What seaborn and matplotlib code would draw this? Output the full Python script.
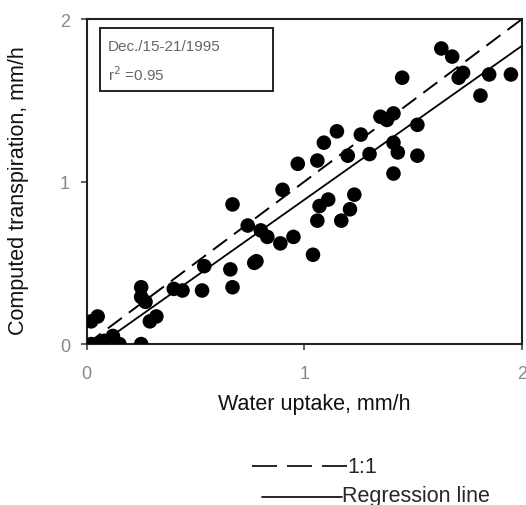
import numpy as np
import pandas as pd
import matplotlib.pyplot as plt
import seaborn as sns
from matplotlib.lines import Line2D
from matplotlib.patches import Rectangle

# data
water_uptake = [0.02, 0.05, 0.02, 0.05, 0.08, 0.12, 0.15, 0.25, 0.25, 0.25,
                0.27, 0.32, 0.29, 0.40, 0.44, 0.53, 0.54, 0.66, 0.67, 0.77,
                0.67, 0.74, 0.80, 0.83, 0.89, 0.95, 0.78, 0.90, 0.97, 1.06,
                1.09, 1.15, 1.26, 1.35, 1.41, 1.38, 1.20, 1.30, 1.41, 1.43,
                1.52, 1.41, 1.52, 1.45, 1.63, 1.68, 1.71, 1.73, 1.85, 1.95,
                1.81, 1.11, 1.07, 1.06, 1.23, 1.21, 1.17, 1.04]
computed_transp = [0.14, 0.17, 0.00, 0.00, 0.02, 0.05, 0.00, 0.00, 0.35, 0.29,
                   0.26, 0.17, 0.14, 0.34, 0.33, 0.33, 0.48, 0.46, 0.35, 0.50,
                   0.86, 0.73, 0.70, 0.66, 0.62, 0.66, 0.51, 0.95, 1.11, 1.13,
                   1.24, 1.31, 1.29, 1.40, 1.42, 1.38, 1.16, 1.17, 1.24, 1.18,
                   1.16, 1.05, 1.35, 1.64, 1.82, 1.77, 1.64, 1.67, 1.66, 1.66,
                   1.53, 0.89, 0.85, 0.76, 0.92, 0.83, 0.76, 0.55]
one_to_one = [0, 2]
period_label = "Dec./15-21/1995"
r2_label = "r$^2$ =0.95"

df = pd.DataFrame({"uptake": water_uptake, "transp": computed_transp})

sns.set_theme(style="ticks")
plt.rcParams['font.family'] = ['Liberation Sans', 'DejaVu Sans']

fig = plt.figure(figsize=(5.26, 5.06), dpi=100)
ax = fig.add_axes([0.165, 0.318, 0.827, 0.642])
ax.set_xlim(0, 2)
ax.set_ylim(0, 2)

# 1:1 line
ax.plot(one_to_one, one_to_one, color='black', linestyle=(0, (9, 4.5)), linewidth=1.4)

sns.regplot(data=df, x="uptake", y="transp", ax=ax, scatter=False, ci=None,
            truncate=False, line_kws=dict(color='black', linewidth=1.3))
sns.scatterplot(data=df, x="uptake", y="transp", ax=ax, color='black',
                s=110, edgecolor='none', zorder=3)

ax.set_xlim(0, 2)
ax.set_ylim(0, 2)
ax.set_xticks([0, 1, 2])
ax.set_yticks([0, 1, 2])
ax.tick_params(axis='both', labelsize=13, labelcolor='#888888', length=4,
               width=1.2, color='#444444')
ax.tick_params(axis='x', pad=11)
ax.tick_params(axis='y', pad=8)
for s in ax.spines.values():
    s.set_linewidth(1.5)
    s.set_color('#222222')

ax.set_xlabel("Water uptake, mm/h", fontsize=15.5, color='#111111')
ax.set_ylabel("Computed transpiration, mm/h", fontsize=15.5, color='#111111')
ax.xaxis.set_label_coords(0.524, -0.152)
ax.yaxis.set_label_coords(-0.133, 0.474)

# info box
ax.add_patch(Rectangle((0.030, 0.778), 0.398, 0.194, transform=ax.transAxes,
                       fill=False, edgecolor='#222222', linewidth=1.4))
ax.text(0.048, 0.917, period_label, transform=ax.transAxes, fontsize=11,
        color='#666666', va='center')
ax.text(0.048, 0.831, r2_label, transform=ax.transAxes, fontsize=11,
        color='#666666', va='center')

# legend drawn below the plot
fig.add_artist(Line2D([0.479, 0.660], [0.077, 0.077], color='black',
                      linestyle=(0, (15, 6)), linewidth=1.2))
fig.text(0.660, 0.077, "1:1", fontsize=15.5, va='center')
fig.add_artist(Line2D([0.498, 0.650], [0.016, 0.016], color='black', linewidth=1.2))
fig.text(0.650, 0.008, "Regression line", fontsize=15.5, va='baseline')

fig.savefig("out.png", dpi=100)
